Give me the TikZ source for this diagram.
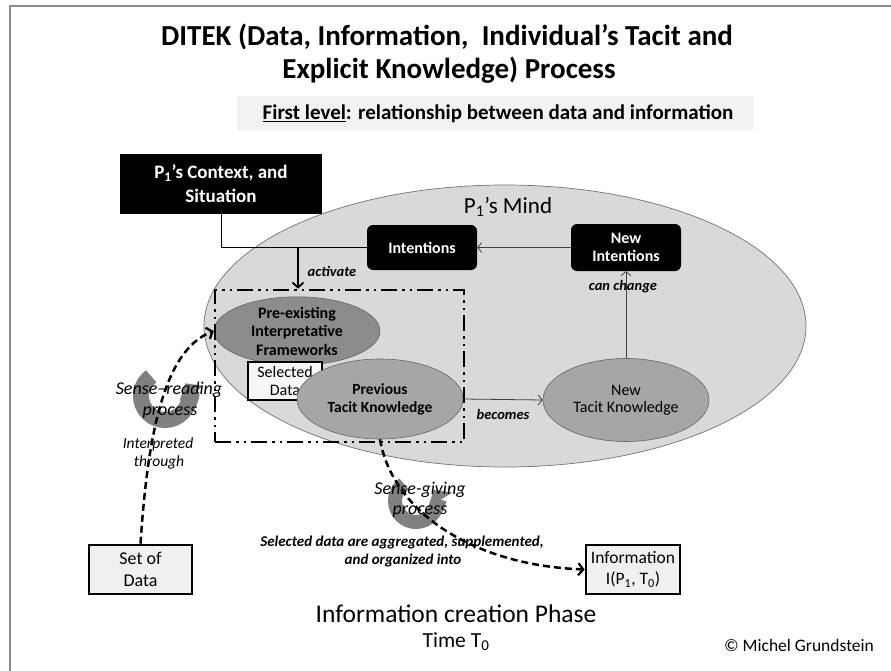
\documentclass[tikz,border=0pt]{standalone}
\usepackage{fontspec}
\setmainfont{Carlito}
\usetikzlibrary{arrows.meta,shapes.geometric}
\definecolor{framegray}{HTML}{8A8A8A}
\definecolor{mindfill}{HTML}{D9D9D9}
\definecolor{prefill}{HTML}{8C8C8C}
\definecolor{tacitfill}{HTML}{A6A6A6}
\definecolor{boxfill}{HTML}{F0F0F0}
\definecolor{subfill}{HTML}{F2F2F2}
\definecolor{cycgray}{HTML}{808080}
\newcommand{\fs}[1]{\fontsize{#1}{#1}\selectfont}
\begin{document}
\begin{tikzpicture}[x=1pt,y=-1pt,
  blackbox/.style={fill=black, text=white, font=\bfseries\fs{16}, align=center, inner sep=0pt},
  ovalnode/.style={ellipse, draw=black!60, line width=0.6pt, align=center, inner sep=0pt},
  databox/.style={draw=black, line width=2.6pt, fill=boxfill, align=center, inner sep=0pt},
  thinarr/.style={draw=black!75, line width=0.8pt, -{Straight Barb[length=4pt,width=10pt]}},
  dasharr/.style={draw=black, line width=2.5pt, dash pattern=on 7pt off 4pt, -{Straight Barb[length=5pt,width=12pt,line width=2.2pt]}},
  lbl/.style={font=\bfseries\itshape\fs{14.5}, inner sep=0pt},
  cycarr/.style={draw=cycgray, -{Triangle[length=12pt,width=28pt]}},
  cyctext/.style={font=\itshape\fs{18}, align=center, inner sep=0pt}
]
\useasboundingbox (0,0) rectangle (891,671);
\fill[white] (0,0) rectangle (891,671);
\draw[framegray, line width=2pt] (10,671) -- (10,6) -- (891,6);

% titles
\node[font=\bfseries\fs{29}, align=center, inner sep=0pt] (title1) at (447,37) {DITEK (Data, Information,\ \ Individual’s Tacit and};
\node[font=\bfseries\fs{29}, align=center, inner sep=0pt] (title2) at (449,70) {Explicit Knowledge) Process};
\node[fill=subfill, minimum width=516pt, minimum height=35pt, inner sep=0pt] (subbox) at (495,114) {};
\node[font=\bfseries\fs{21}, inner sep=0pt] (subtitle) at (498,114) {\underline{First level}: relationship between data and information};

% context box
\node[blackbox, font=\bfseries\fs{19}, minimum width=202pt, minimum height=60pt] (ctx) at (221,184)
  {P\textsubscript{1}’s Context, and\\[5pt]Situation};

% mind ellipse
\node[ellipse, draw=black!55, line width=0.7pt, fill=mindfill, minimum width=602pt, minimum height=282pt, inner sep=0pt] (mind) at (505,326) {};
\node[font=\fs{23}, inner sep=0pt] (mindlbl) at (508,207) {P\textsubscript{1}’s Mind};

% intentions
\node[blackbox, rounded corners=6pt, minimum width=110pt, minimum height=45pt] (intent) at (422,247.5) {Intentions};
\node[blackbox, rounded corners=6pt, minimum width=110pt, minimum height=47pt] (newint) at (626,247.5) {New\\[2pt]Intentions};

% inner ellipses and selected data
\node[ovalnode, fill=prefill, minimum width=166pt, minimum height=68pt, font=\bfseries\fs{16}] (pre) at (297,331)
  {Pre-existing\\[2.5pt]Interpretative\\[2.5pt]Frameworks};
\node[draw=black, line width=2.4pt, fill=white!97!black, minimum width=74pt, minimum height=38pt, inner sep=0pt, align=center, font=\fs{16}] (seld) at (285,381)
  {Selected\\[2pt]Data};
\node[ovalnode, fill=tacitfill, minimum width=166pt, minimum height=80pt, font=\bfseries\fs{15.5}] (prev) at (380,399)
  {Previous\\[2.5pt]Tacit Knowledge};
\node[ovalnode, fill=tacitfill, minimum width=166pt, minimum height=83pt, font=\fs{16}] (newt) at (626,400)
  {New\\[1pt]Tacit Knowledge};

% dash-dot frame
\node[draw=black, line width=2.6pt, dash pattern=on 16pt off 5pt on 2.5pt off 5pt on 2.5pt off 5pt, minimum width=249pt, minimum height=152pt, inner sep=0pt] (dbox) at (339.5,366) {};

% connectors inside mind
\draw[thinarr] (prev.east) -- (newt.west);
\node[lbl] (becomes) at (503,414) {becomes};
\draw[thinarr] (newt.north) -- (newint.south);
\node[lbl] (canchange) at (623,287) {can change};
\draw[thinarr] (newint.west) -- (intent.east);

% context / intentions -> activate
\coordinate (junc) at (298,247.5);
\draw[draw=black, line width=1pt] (ctx.south) |- (intent.west);
\draw[draw=black, line width=1.8pt, -{Straight Barb[length=5pt,width=11pt]}] (junc) -- (junc |- dbox.north);
\node[lbl] (activate) at (332,271) {activate};

% circular arrows
\draw[cycarr, line width=16pt] (165,396) ++(235:24) arc[start angle=235, end angle=-32, radius=24];
\draw[cycarr, line width=14pt] (416,501) ++(235:21) arc[start angle=235, end angle=-32, radius=21];
\node[cyctext] (sr1) at (169,390) {Sense–reading};
\node[cyctext] (sr2) at (170,413) {process};
\node[cyctext] (sg1) at (420,490) {Sense-giving};
\node[cyctext] (sg2) at (420,512) {process};

\node[font=\itshape\fs{15.5}, inner sep=0pt] (interp1) at (158,444) {Interpreted};
\node[font=\itshape\fs{15.5}, inner sep=0pt] (interp2) at (159,462) {through};
\node[lbl, font=\bfseries\itshape\fs{15}] (agg1) at (402,542) {Selected data are aggregated, supplemented,};
\node[lbl, font=\bfseries\itshape\fs{15}] (agg2) at (403,560) {and organized into};

% data boxes
\node[databox, minimum width=103pt, minimum height=49pt, font=\fs{18}] (setd) at (140.5,569.5) {Set of\\[4pt]Data};
\node[databox, minimum width=94pt, minimum height=49pt, font=\fs{17.5}] (info) at (633,569.5) {Information\\[3pt]I(P\textsubscript{1}, T\textsubscript{0})};

% dashed connectors
\draw[dasharr] (setd.north) .. controls (148,430) and (165,350) .. (pre.west);
\draw[dasharr] (prev.south) .. controls (392,510) and (470,565) .. (info.west);

% bottom texts
\node[font=\fs{25.5}, inner sep=0pt] (phase) at (456,614) {Information creation Phase};
\node[font=\fs{21.5}, inner sep=0pt] (time) at (456,642) {Time T\textsubscript{0}};
\node[font=\fs{17.5}, inner sep=0pt] (copy) at (799,645) {© Michel Grundstein};
\end{tikzpicture}
\end{document}
